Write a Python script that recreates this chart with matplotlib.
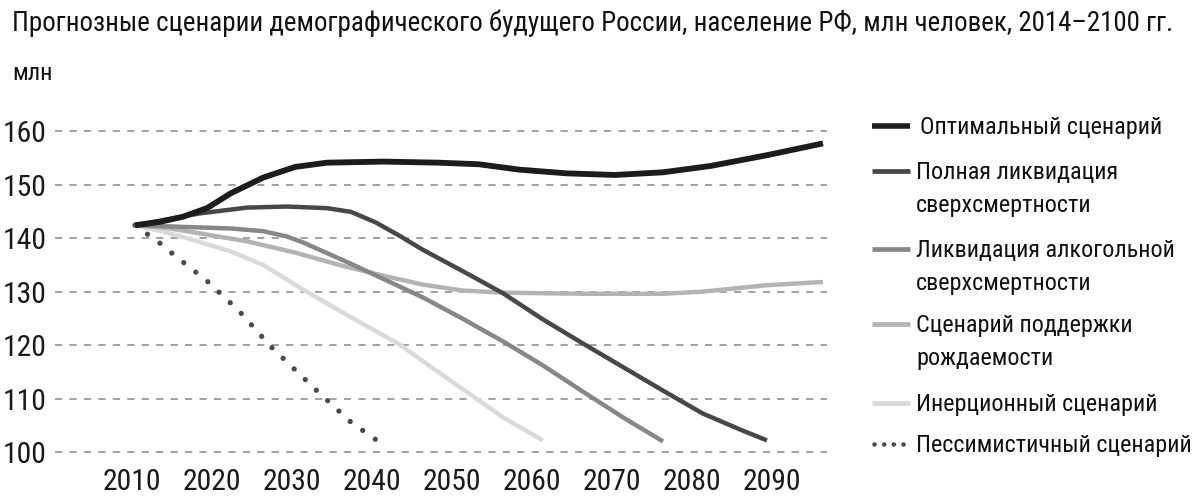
import matplotlib
matplotlib.use("Agg")
import matplotlib.pyplot as plt
from matplotlib.lines import Line2D
from matplotlib import font_manager

# pick a narrow face if one is installed, the reference uses a condensed font
installed = {f.name for f in font_manager.fontManager.ttflist}
stretch = 'normal'
family = None
for name in ['Roboto Condensed', 'Liberation Sans Narrow', 'Open Sans Condensed', 'Noto Sans Condensed']:
    if name in installed:
        family = name
        break
if family is None:
    if any(f.name == 'DejaVu Sans' and f.stretch == 'condensed' for f in font_manager.fontManager.ttflist):
        family = 'DejaVu Sans'
        stretch = 'condensed'
    elif 'Roboto' in installed:
        family = 'Roboto'
    else:
        family = 'DejaVu Sans'
plt.rcParams['font.family'] = [family, 'DejaVu Sans']
plt.rcParams['font.stretch'] = stretch

# data (population, mln)
years_opt = [2014, 2017, 2020, 2023, 2026, 2030, 2034, 2038, 2045, 2052, 2057, 2062, 2068, 2074, 2080, 2086, 2093, 2100]
pop_opt = [142.4, 143.0, 144.0, 145.6, 148.4, 151.3, 153.3, 154.1, 154.3, 154.1, 153.8, 152.8, 152.1, 151.8, 152.3, 153.5, 155.5, 157.7]

years_full = [2014, 2018, 2022, 2028, 2033, 2038, 2041, 2044, 2047, 2050, 2055, 2060, 2065, 2070, 2075, 2080, 2085, 2090, 2093]
pop_full = [142.4, 143.5, 144.6, 145.7, 145.9, 145.6, 144.9, 143.0, 140.5, 137.8, 133.8, 129.7, 124.8, 120.3, 115.9, 111.5, 107.2, 104.0, 102.2]

years_alc = [2014, 2020, 2026, 2030, 2033, 2035, 2038, 2041, 2045, 2050, 2055, 2060, 2065, 2070, 2075, 2080]
pop_alc = [142.4, 142.1, 141.8, 141.3, 140.3, 139.2, 137.2, 135.2, 132.4, 128.9, 124.9, 120.7, 116.2, 111.3, 106.5, 102.0]

years_birth = [2014, 2018, 2022, 2028, 2034, 2040, 2045, 2050, 2055, 2060, 2070, 2080, 2085, 2093, 2100]
pop_birth = [142.4, 141.9, 140.9, 139.4, 137.3, 134.8, 133.0, 131.3, 130.2, 129.8, 129.6, 129.6, 130.0, 131.2, 131.8]

years_inert = [2014, 2017, 2020, 2026, 2030, 2035, 2041, 2047, 2053, 2056, 2060, 2065]
pop_inert = [142.4, 141.4, 140.2, 137.5, 135.0, 130.4, 125.2, 120.2, 113.8, 110.7, 106.5, 102.2]

years_pess = [2014, 2017, 2019, 2023, 2027, 2031, 2034, 2037, 2041, 2045]
pop_pess = [142.4, 139.2, 136.7, 132.0, 126.4, 119.7, 115.4, 111.1, 105.6, 101.4]

labels = [
    "Оптимальный сценарий",
    "Полная ликвидация\nсверхсмертности",
    "Ликвидация алкогольной\nсверхсмертности",
    "Сценарий поддержки\nрождаемости",
    "Инерционный сценарий",
    "Пессимистичный сценарий",
]
y_ticks = [100, 110, 120, 130, 140, 150, 160]
x_ticks = [2010, 2020, 2030, 2040, 2050, 2060, 2070, 2080, 2090]
title = "Прогнозные сценарии демографического будущего России, население РФ, млн человек, 2014–2100 гг."

colors = ['#1c1c1c', '#474747', '#878787', '#b3b3b3', '#dadada', '#4a4a4a']
widths = [4.2, 3.2, 3.2, 3.2, 3.2, 3.8]
dot_style = (0, (0.01, 2.9))

fig = plt.figure(figsize=(12, 5), dpi=100)
renderer = fig.canvas.get_renderer()

# size the title so it spans the same width as in the reference
t = fig.text(12 / 1200, 1 - 31 / 500, title, fontsize=19, va='baseline', ha='left', color='#111111')
fs = 19 * 1160 / t.get_window_extent(renderer).width
t.set_fontsize(fs)

# same idea for the legend: its longest line ends near the right edge
probe = fig.text(0, 0, labels[5], fontsize=19)
leg_fs = 19 * 276 / probe.get_window_extent(renderer).width
probe.remove()
leg_px = leg_fs * 100 / 72

ax = fig.add_axes([55 / 1200, 35 / 500, 772 / 1200, 343 / 500])

ax.plot(years_pess, pop_pess, color=colors[5], lw=widths[5], linestyle=dot_style,
        dash_capstyle='round', zorder=2)
ax.plot(years_inert, pop_inert, color=colors[4], lw=widths[4], solid_capstyle='butt', zorder=3)
ax.plot(years_birth, pop_birth, color=colors[3], lw=widths[3], solid_capstyle='butt', zorder=4)
ax.plot(years_alc, pop_alc, color=colors[2], lw=widths[2], solid_capstyle='butt', zorder=5)
ax.plot(years_full, pop_full, color=colors[1], lw=widths[1], solid_capstyle='butt', zorder=6)
ax.plot(years_opt, pop_opt, color=colors[0], lw=widths[0], solid_capstyle='butt', zorder=7)

ax.set_xlim(2004, 2100.5)
ax.set_ylim(97.6, 161.7)

for v in y_ticks:
    ax.axhline(v, color='#9a9a9a', lw=1.3, linestyle=(0, (4, 4)), zorder=1)

for s in ax.spines.values():
    s.set_visible(False)

ax.set_yticks(y_ticks)
ax.set_yticklabels([str(v) for v in y_ticks])
ax.set_xticks(x_ticks)
ax.set_xticklabels([str(v) for v in x_ticks], ha='left')
ax.tick_params(axis='both', length=0, labelsize=fs * 1.1, colors='#1a1a1a')
ax.tick_params(axis='y', pad=6)
ax.tick_params(axis='x', pad=2)

fig.text(12 / 1200, 1 - 73 / 500, "млн", fontsize=fs * 0.9, va='center', ha='left', color='#111111')

# legend drawn by hand so the handle sits on the first text line
entry_y = [125, 170, 248, 323, 402, 443]
line_gap = 33
for i, lab in enumerate(labels):
    yf = 1 - (entry_y[i] + 1) / 500
    if i == 5:
        h = Line2D([874 / 1200, 908 / 1200], [yf, yf], transform=fig.transFigure,
                   color=colors[i], lw=3.3, linestyle=(0, (0.01, 2.1)), dash_capstyle='round')
    else:
        h = Line2D([872 / 1200, 910 / 1200], [yf, yf], transform=fig.transFigure,
                   color=colors[i], lw=4.0 if i == 0 else 3.4, solid_capstyle='butt')
    fig.add_artist(h)
    x0 = 920 if i == 0 else 916
    base = entry_y[i] + 0.36 * leg_px
    for k, part in enumerate(lab.split("\n")):
        fig.text(x0 / 1200, 1 - (base + k * line_gap) / 500, part, fontsize=leg_fs,
                 va='baseline', ha='left', color='#111111')

fig.savefig("out.png", dpi=100)
